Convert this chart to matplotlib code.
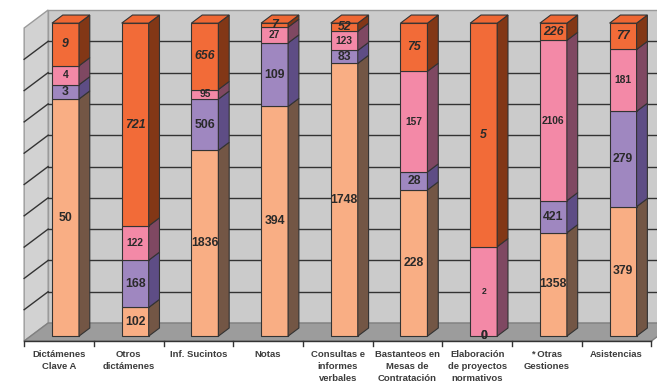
import numpy as np
import matplotlib.pyplot as plt
from matplotlib.patches import Polygon

categories = ["Dictámenes\nClave A", "Otros\ndictámenes", "Inf. Sucintos", "Notas",
              "Consultas e\ninformes\nverbales", "Bastanteos en\nMesas de\nContratación",
              "Elaboración\nde proyectos\nnormativos", "* Otras\nGestiones", "Asistencias"]
peach = [50, 102, 1836, 394, 1748, 228, 0, 1358, 379]
purple = [3, 168, 506, 109, 83, 28, 0, 421, 279]
pink = [4, 122, 95, 27, 123, 157, 2, 2106, 181]
orange = [9, 721, 656, 7, 52, 75, 5, 226, 77]

series = [peach, purple, pink, orange]
front_cols = ["#F9AE84", "#9F87C0", "#F389A7", "#F26B38"]
side_cols = ["#735645", "#5E4D85", "#7F4862", "#823716"]
top_col = "#EE6733"
label_size = [8.8, 8.8, 7.4, 8.8]
label_style = ["normal", "normal", "normal", "italic"]

# pseudo-3d projection: x in categories, y in percent, d = depth (0 front, 1 back)
PXC, PXP = 69.7, 3.13
DX, DY = 24 / PXC, 18 / PXP
DF, DB = 0.27, 0.72
W = 27 / PXC


def proj(c, p, d):
    return (c + d * DX, p + d * DY)


fig = plt.figure(figsize=(6.57, 3.85), dpi=100)
ax = fig.add_axes([0, 0, 1, 1])
ax.set_xlim(-59 / PXC, (657 - 59) / PXC)
ax.set_ylim((341 - 385) / PXP, 341 / PXP)
ax.axis("off")

n = len(categories)
left, right = -0.5, n - 0.5
wall_edge = "#9a9a9a"

# back wall, side wall, floor
ax.add_patch(Polygon([proj(left, 0, 1), proj(right, 0, 1), proj(right, 100, 1), proj(left, 100, 1)],
                     closed=True, fc="#cbcbcb", ec=wall_edge, lw=1, zorder=1))
ax.add_patch(Polygon([proj(left, 0, 0), proj(left, 0, 1), proj(left, 100, 1), proj(left, 100, 0)],
                     closed=True, fc="#d2d2d2", ec=wall_edge, lw=1, zorder=1))
ax.add_patch(Polygon([proj(left, 0, 0), proj(right, 0, 0), proj(right, 0, 1), proj(left, 0, 1)],
                     closed=True, fc="#9c9c9c", ec="#808080", lw=1, zorder=1))

for p in range(10, 100, 10):
    a, b = proj(left, p, 1), proj(right, p, 1)
    ax.plot([a[0], b[0]], [a[1], b[1]], color="#333333", lw=1, zorder=2)
    a, b = proj(left, p, 0), proj(left, p, 1)
    ax.plot([a[0], b[0]], [a[1], b[1]], color="#333333", lw=1, zorder=2)

# category axis with ticks
ax.plot([left, right], [0, 0], color="#333333", lw=1, zorder=3)
for k in range(n + 1):
    ax.plot([left + k, left + k], [0, -5 / PXP], color="#333333", lw=1, zorder=3)
for k in range(n):
    ax.text(k, -3.0, categories[k], ha="center", va="top",
            fontsize=6.8, fontweight="bold", color="#3c3c3c",
            family="Liberation Sans", linespacing=1.4)

data = np.array(series, dtype=float)
totals = data.sum(axis=0)
for i in range(n):
    x0, x1 = i - W / 2, i + W / 2
    base = 0.0
    for s in range(len(series)):
        h = data[s, i] / totals[i] * 100
        top = base + h
        if h > 0:
            ax.add_patch(Polygon([proj(x0, base, DF), proj(x1, base, DF), proj(x1, top, DF), proj(x0, top, DF)],
                                 closed=True, fc=front_cols[s], ec="#333333", lw=0.8, zorder=5))
            ax.add_patch(Polygon([proj(x1, base, DF), proj(x1, base, DB), proj(x1, top, DB), proj(x1, top, DF)],
                                 closed=True, fc=side_cols[s], ec="#333333", lw=0.8, zorder=5))
        if s == len(series) - 1:
            ax.add_patch(Polygon([proj(x0, top, DF), proj(x1, top, DF), proj(x1, top, DB), proj(x0, top, DB)],
                                 closed=True, fc=top_col, ec="#333333", lw=0.8, zorder=5))
        # the tiny pink value in the normativos bar is set smaller
        size = 6.2 if (s == 2 and series[s][i] < 3) else label_size[s]
        lx, ly = proj(i, base + h / 2, DF)
        ax.text(lx, ly, f"{int(series[s][i])}", ha="center", va="center",
                fontsize=size, fontweight="bold", fontstyle=label_style[s],
                color="#2a2a2a", family="Liberation Sans", zorder=6)
        base = top

fig.savefig("out.png", dpi=100)
